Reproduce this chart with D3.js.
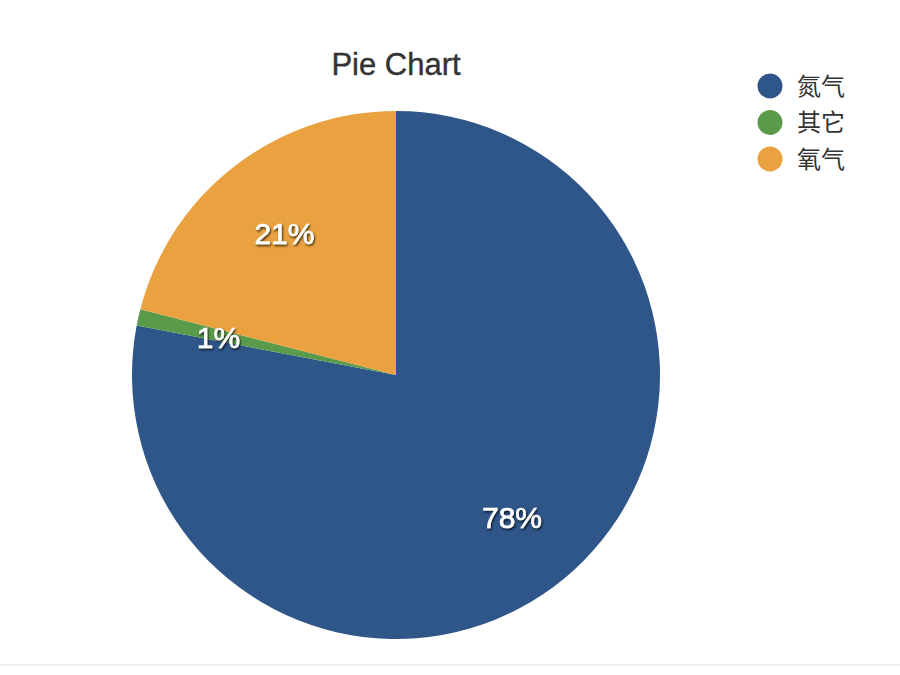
<!DOCTYPE html>
<html>
  <head>
    <meta charset="utf-8" />
    <title>Pie Chart</title>
    <script src="https://d3js.org/d3.v7.min.js"></script>
    <style>
      body { margin: 0; background: #fff; }
      text { font-family: "Liberation Sans", "Noto Sans CJK SC", sans-serif; }
    </style>
  </head>
  <body>
    <svg width="900" height="675" id="chart"></svg>

    <script>
      // data
      var names = ["氮气", "其它", "氧气"];
      var values = [78, 1, 21];
      var colors = ["#2f5689", "#5a9a4b", "#e9a23f"];

      var svg = d3.select("#chart");

      // bottom border line
      svg.append("line")
          .attr("x1", 0).attr("x2", 900)
          .attr("y1", 665).attr("y2", 665)
          .style("stroke", "#ddd").style("stroke-width", 1);

      // title
      svg.append("text")
          .attr("x", 396).attr("y", 75)
          .attr("text-anchor", "middle")
          .style("font-size", "31px")
          .style("fill", "#333")
          .style("stroke", "#333").style("stroke-width", 0.4)
          .text("Pie Chart");

      // shadow for labels
      var defs = svg.append("defs");
      var f = defs.append("filter").attr("id", "shadow")
          .attr("x", "-20%").attr("y", "-20%").attr("width", "140%").attr("height", "140%");
      f.append("feDropShadow")
          .attr("dx", 1).attr("dy", 1.5).attr("stdDeviation", 1.2)
          .attr("flood-color", "#000").attr("flood-opacity", 0.8);

      var radius = 264;
      var g = svg.append("g").attr("transform", "translate(396,375)");

      var pie = d3.pie().sort(null).value(function(d) { return d; });
      var arcs = pie(values);

      var arc = d3.arc().innerRadius(0).outerRadius(radius);
      var labelArc = d3.arc().innerRadius(182).outerRadius(182);

      g.selectAll("path")
          .data(arcs)
          .join("path")
          .attr("d", arc)
          .attr("fill", function(d, i) { return colors[i]; });

      g.selectAll("text.label")
          .data(arcs)
          .join("text")
          .attr("class", "label")
          .attr("transform", function(d) { return "translate(" + labelArc.centroid(d) + ")"; })
          .attr("text-anchor", "middle")
          .attr("dy", "0.42em")
          .attr("filter", "url(#shadow)")
          .style("fill", "#fff")
          .style("stroke", "#fff").style("stroke-width", 0.6)
          .style("font-size", "30px")
          .text(function(d) { return d.value + "%"; });

      // legend
      var legend = svg.append("g").attr("transform", "translate(770,86)");
      var items = legend.selectAll("g")
          .data(names)
          .join("g")
          .attr("transform", function(d, i) { return "translate(0," + (i * 36.5) + ")"; });

      items.append("circle")
          .attr("r", 12.5)
          .attr("fill", function(d, i) { return colors[i]; });

      items.append("text")
          .attr("x", 27)
          .attr("dy", "0.36em")
          .style("font-size", "24px")
          .style("fill", "#333")
          .text(function(d) { return d; });
    </script>
  </body>
</html>
